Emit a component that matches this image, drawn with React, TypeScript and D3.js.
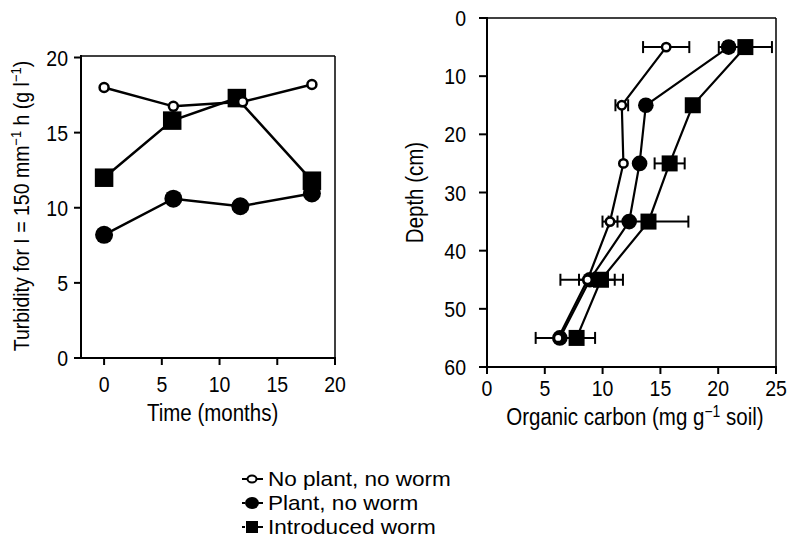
import React from "react";
import * as d3 from "d3";

// ---- Left panel: turbidity over time ----
const timeNoPlant = [0, 6, 12, 18];
const turbNoPlant = [18.0, 16.75, 17.05, 18.2];
const timePlant = [0, 6, 11.8, 18];
const turbPlant = [8.2, 10.6, 10.1, 10.95];
const timeWorm = [0, 5.9, 11.5, 18];
const turbWorm = [12.0, 15.8, 17.3, 11.8];
const timeTicks = [0, 5, 10, 15, 20];
const turbTicks = [0, 5, 10, 15, 20];

// ---- Right panel: organic carbon vs depth ----
const depths = [5, 15, 25, 35, 45, 55];
const carbonNoPlant = [15.5, 11.66, 11.8, 10.64, 8.7, 6.16];
const errNoPlant = [2.0, 0.55, 0, 0.65, 2.35, 1.95];
const carbonPlant = [20.9, 13.74, 13.2, 12.3, 8.9, 6.3];
const errPlant = [0.4, 0, 0, 0, 0, 0];
const carbonWorm = [22.35, 17.8, 15.8, 13.97, 9.86, 7.75];
const errWorm = [2.3, 0, 1.3, 3.45, 1.9, 1.6];
const carbonTicks = [0, 5, 10, 15, 20, 25];
const depthTicks = [0, 10, 20, 30, 40, 50, 60];

const legendLabels = ["No plant, no worm", "Plant, no worm", "Introduced worm"];

const FONT = "'Liberation Sans', Arial, Helvetica, sans-serif";

type Kind = "open" | "filled" | "square";

function T({
  x,
  y,
  rotate = 0,
  anchor = "start",
  size,
  sx = 1,
  sy = 1.15,
  children,
}: {
  x: number;
  y: number;
  rotate?: number;
  anchor?: "start" | "middle" | "end";
  size: number;
  sx?: number;
  sy?: number;
  children: React.ReactNode;
}) {
  return (
    <g transform={`translate(${x},${y}) rotate(${rotate}) scale(${sx},${sy})`}>
      <text x={0} y={0} textAnchor={anchor} fontSize={size} fill="#000">
        {children}
      </text>
    </g>
  );
}

function Marker({ kind, x, y, big }: { kind: Kind; x: number; y: number; big: boolean }) {
  if (kind === "open") {
    const r = big ? 4.5 : 4.2;
    return <circle cx={x} cy={y} r={r} fill="#fff" stroke="#000" strokeWidth={2.5} />;
  }
  if (kind === "filled") {
    const r = big ? 9 : 7.8;
    return <circle cx={x} cy={y} r={r} fill="#000" />;
  }
  const s = big ? 18.5 : 16;
  return <rect x={x - s / 2} y={y - s / 2} width={s} height={s} fill="#000" />;
}

export default function App() {
  // left scales
  const lx = d3.scaleLinear().domain([-2, 20]).range([81, 335]);
  const ly = d3.scaleLinear().domain([0, 20.1]).range([358, 56]);
  // right scales
  const rx = d3.scaleLinear().domain([0, 25]).range([487, 776]);
  const ry = d3.scaleLinear().domain([0, 60]).range([18, 367]);

  const leftLine = d3
    .line<[number, number]>()
    .x((d) => lx(d[0]))
    .y((d) => ly(d[1]));
  const rightLine = d3
    .line<[number, number]>()
    .x((d) => rx(d[0]))
    .y((d) => ry(d[1]));

  const leftSeries: { kind: Kind; xs: number[]; ys: number[] }[] = [
    { kind: "filled", xs: timePlant, ys: turbPlant },
    { kind: "square", xs: timeWorm, ys: turbWorm },
    { kind: "open", xs: timeNoPlant, ys: turbNoPlant },
  ];
  const rightSeries: { kind: Kind; xs: number[]; errs: number[] }[] = [
    { kind: "filled", xs: carbonPlant, errs: errPlant },
    { kind: "square", xs: carbonWorm, errs: errWorm },
    { kind: "open", xs: carbonNoPlant, errs: errNoPlant },
  ];

  const fs = 19.5;
  const titleFs = 20.5;
  const capH = 6;

  return (
    <svg width={789} height={544} style={{ position: "absolute", left: 0, top: 0, background: "#fff" }} fontFamily={FONT}>
      <rect x={0} y={0} width={789} height={544} fill="#fff" />
      {/* ===== Left panel ===== */}
      <g>
        <line x1={81} y1={56} x2={335} y2={56} stroke="#000" strokeWidth={1.5} />
        <line x1={335} y1={56} x2={335} y2={358} stroke="#000" strokeWidth={1.5} />
        <line x1={81} y1={55} x2={81} y2={359} stroke="#000" strokeWidth={2} />
        <line x1={80} y1={358} x2={336} y2={358} stroke="#000" strokeWidth={2} />
        {turbTicks.map((t) => (
          <g key={"ly" + t}>
            <line x1={74} x2={81} y1={ly(t)} y2={ly(t)} stroke="#000" strokeWidth={2} />
            <T x={68} y={ly(t) + 8} anchor="end" size={fs}>
              {t}
            </T>
          </g>
        ))}
        {timeTicks.map((t) => (
          <g key={"lx" + t}>
            <line x1={lx(t)} x2={lx(t)} y1={358} y2={365} stroke="#000" strokeWidth={2} />
            <T x={lx(t)} y={392} anchor="middle" size={fs}>
              {t}
            </T>
          </g>
        ))}
        <T x={lx(9.4)} y={421} anchor="middle" size={titleFs}>
          Time (months)
        </T>
        <T x={29} y={206} rotate={-90} anchor="middle" size={fs}>
          Turbidity for I = 150 mm
          <tspan fontSize={13} dy={-7}>−1</tspan>
          <tspan dy={7}> h (g l</tspan>
          <tspan fontSize={13} dy={-7}>−1</tspan>
          <tspan dy={7}>)</tspan>
        </T>
        {leftSeries.map((s) => (
          <path
            key={"ll" + s.kind}
            d={leftLine(s.xs.map((x, i) => [x, s.ys[i]] as [number, number])) || ""}
            fill="none"
            stroke="#000"
            strokeWidth={2.5}
          />
        ))}
        {leftSeries.map((s) =>
          s.xs.map((x, i) => <Marker key={"lm" + s.kind + i} kind={s.kind} x={lx(x)} y={ly(s.ys[i])} big={true} />)
        )}
      </g>

      {/* ===== Right panel ===== */}
      <g>
        <line x1={487} y1={18} x2={776} y2={18} stroke="#000" strokeWidth={1.5} />
        <line x1={776} y1={18} x2={776} y2={367} stroke="#000" strokeWidth={1.5} />
        <line x1={487} y1={17} x2={487} y2={368} stroke="#000" strokeWidth={2} />
        <line x1={486} y1={367} x2={777} y2={367} stroke="#000" strokeWidth={2} />
        {depthTicks.map((t) => (
          <g key={"ry" + t}>
            <line x1={479} x2={487} y1={ry(t)} y2={ry(t)} stroke="#000" strokeWidth={2} />
            <T x={466} y={ry(t) + 8} anchor="end" size={fs}>
              {t}
            </T>
          </g>
        ))}
        {carbonTicks.map((t) => (
          <g key={"rx" + t}>
            <line x1={rx(t)} x2={rx(t)} y1={367} y2={374} stroke="#000" strokeWidth={2} />
            <T x={rx(t)} y={396} anchor="middle" size={fs}>
              {t}
            </T>
          </g>
        ))}
        <T x={rx(12.8)} y={425} anchor="middle" size={titleFs}>
          Organic carbon (mg g
          <tspan fontSize={14} dy={-7}>−1</tspan>
          <tspan dy={7}> soil)</tspan>
        </T>
        <T x={423} y={ry(30)} rotate={-90} anchor="middle" size={titleFs}>
          Depth (cm)
        </T>
        {rightSeries.map((s) => (
          <path
            key={"rl" + s.kind}
            d={rightLine(s.xs.map((x, i) => [x, depths[i]] as [number, number])) || ""}
            fill="none"
            stroke="#000"
            strokeWidth={2.2}
          />
        ))}
        {rightSeries.map((s) =>
          s.xs.map((x, i) =>
            s.errs[i] > 0 ? (
              <g key={"re" + s.kind + i}>
                <line x1={rx(x - s.errs[i])} x2={rx(x + s.errs[i])} y1={ry(depths[i])} y2={ry(depths[i])} stroke="#000" strokeWidth={2} />
                <line x1={rx(x - s.errs[i])} x2={rx(x - s.errs[i])} y1={ry(depths[i]) - capH} y2={ry(depths[i]) + capH} stroke="#000" strokeWidth={2} />
                <line x1={rx(x + s.errs[i])} x2={rx(x + s.errs[i])} y1={ry(depths[i]) - capH} y2={ry(depths[i]) + capH} stroke="#000" strokeWidth={2} />
              </g>
            ) : null
          )
        )}
        {rightSeries.map((s) =>
          s.xs.map((x, i) => <Marker key={"rm" + s.kind + i} kind={s.kind} x={rx(x)} y={ry(depths[i])} big={false} />)
        )}
      </g>

      {/* ===== Legend ===== */}
      {(["open", "filled", "square"] as Kind[]).map((k, i) => {
        const cy = 479 + i * 24;
        return (
          <g key={"lg" + k}>
            {k === "open" ? (
              <line x1={242} x2={263} y1={cy} y2={cy} stroke="#000" strokeWidth={2} />
            ) : (
              <>
                <line x1={242} x2={245} y1={cy} y2={cy} stroke="#000" strokeWidth={2} />
                <line x1={256} x2={263} y1={cy} y2={cy} stroke="#000" strokeWidth={2} />
              </>
            )}
            {k === "open" ? (
              <ellipse cx={252} cy={cy} rx={4.5} ry={3.5} fill="#fff" stroke="#000" strokeWidth={2} />
            ) : k === "filled" ? (
              <ellipse cx={252} cy={cy} rx={7} ry={6} fill="#000" />
            ) : (
              <rect x={246} y={cy - 6} width={12} height={12} fill="#000" />
            )}
            <T x={268} y={cy + 7} size={20.5} sx={1.1} sy={1}>
              {legendLabels[i]}
            </T>
          </g>
        );
      })}
    </svg>
  );
}
